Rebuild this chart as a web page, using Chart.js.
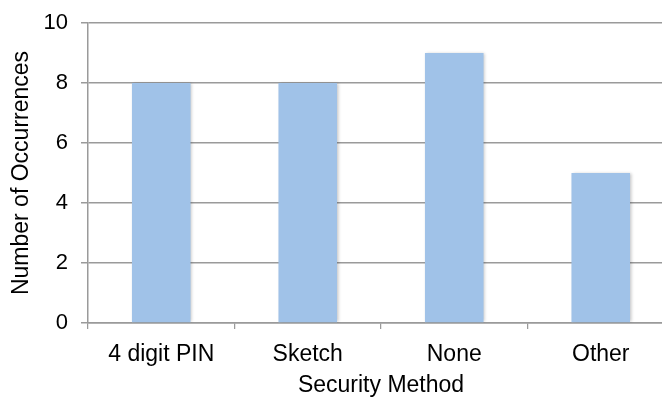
<!DOCTYPE html>
<html>
<head>
<meta charset="utf-8">
<script src="https://cdn.jsdelivr.net/npm/chart.js@4/dist/chart.umd.min.js"></script>
<style>
  html, body { margin: 0; padding: 0; background: #fff; overflow: hidden; }
  #wrap { width: 662px; height: 398px; overflow: hidden; position: relative; }
  canvas { display: block; }
</style>
</head>
<body>
<div id="wrap"><canvas id="c" width="674" height="398"></canvas></div>
<script>
// Security methods and how often each one was reported
const categories = ['4 digit PIN', 'Sketch', 'None', 'Other'];
const occurrences = [8, 8, 9, 5];
const yTicks = [0, 2, 4, 6, 8, 10];

const FONT = "'Liberation Sans', Arial, Helvetica, sans-serif";
const GRID = '#9a9a9a';

// soft drop shadow behind the bars
const barShadow = {
  id: 'barShadow',
  beforeDatasetsDraw(chart) {
    const ctx = chart.ctx;
    ctx.save();
    ctx.shadowColor = 'rgba(0,0,0,0.22)';
    ctx.shadowBlur = 3;
    ctx.shadowOffsetX = 1.5;
    ctx.shadowOffsetY = 0;
  },
  afterDatasetsDraw(chart) {
    chart.ctx.restore();
  }
};

new Chart(document.getElementById('c'), {
  type: 'bar',
  data: {
    labels: categories,
    datasets: [{
      label: 'Number of Occurrences',
      data: occurrences,
      backgroundColor: '#a0c2e8',
      borderWidth: 0,
      barPercentage: 0.4,
      categoryPercentage: 1.0
    }]
  },
  options: {
    responsive: false,
    animation: false,
    devicePixelRatio: 1,
    layout: { padding: { top: 23, right: 0, bottom: 0, left: 0 } },
    plugins: {
      legend: { display: false },
      tooltip: { enabled: false }
    },
    scales: {
      x: {
        offset: true,
        grid: {
          offset: true,
          drawOnChartArea: false,
          drawTicks: true,
          tickLength: 6,
          color: GRID,
          lineWidth: 1.25
        },
        border: { display: true, color: GRID, width: 1.5 },
        ticks: {
          color: '#000',
          font: { family: FONT, size: 23 },
          padding: 12,
          maxRotation: 0
        },
        title: {
          display: true,
          text: 'Security Method',
          color: '#000',
          font: { family: FONT, size: 23, lineHeight: 1.0 },
          padding: { top: 0, bottom: 1 }
        },
        afterFit(s) {
          s.height = 75;
          s.paddingLeft = 0;
          s.paddingRight = 0;
        }
      },
      y: {
        min: 0,
        max: 10,
        afterBuildTicks(s) { s.ticks = yTicks.map(v => ({ value: v })); },
        grid: {
          drawTicks: true,
          tickLength: 7,
          color: GRID,
          lineWidth: 1.5
        },
        border: { display: true, color: GRID, width: 1.5 },
        ticks: {
          color: '#000',
          font: { family: FONT, size: 22 },
          padding: 13
        },
        title: {
          display: true,
          text: 'Number of Occurrences',
          color: '#000',
          font: { family: FONT, size: 23, lineHeight: 1.0 },
          padding: { top: 10, bottom: 0 }
        },
        afterFit(s) {
          s.width = 88;
          s.paddingTop = 0;
          s.paddingBottom = 0;
        }
      }
    }
  },
  plugins: [barShadow]
});
</script>
</body>
</html>
